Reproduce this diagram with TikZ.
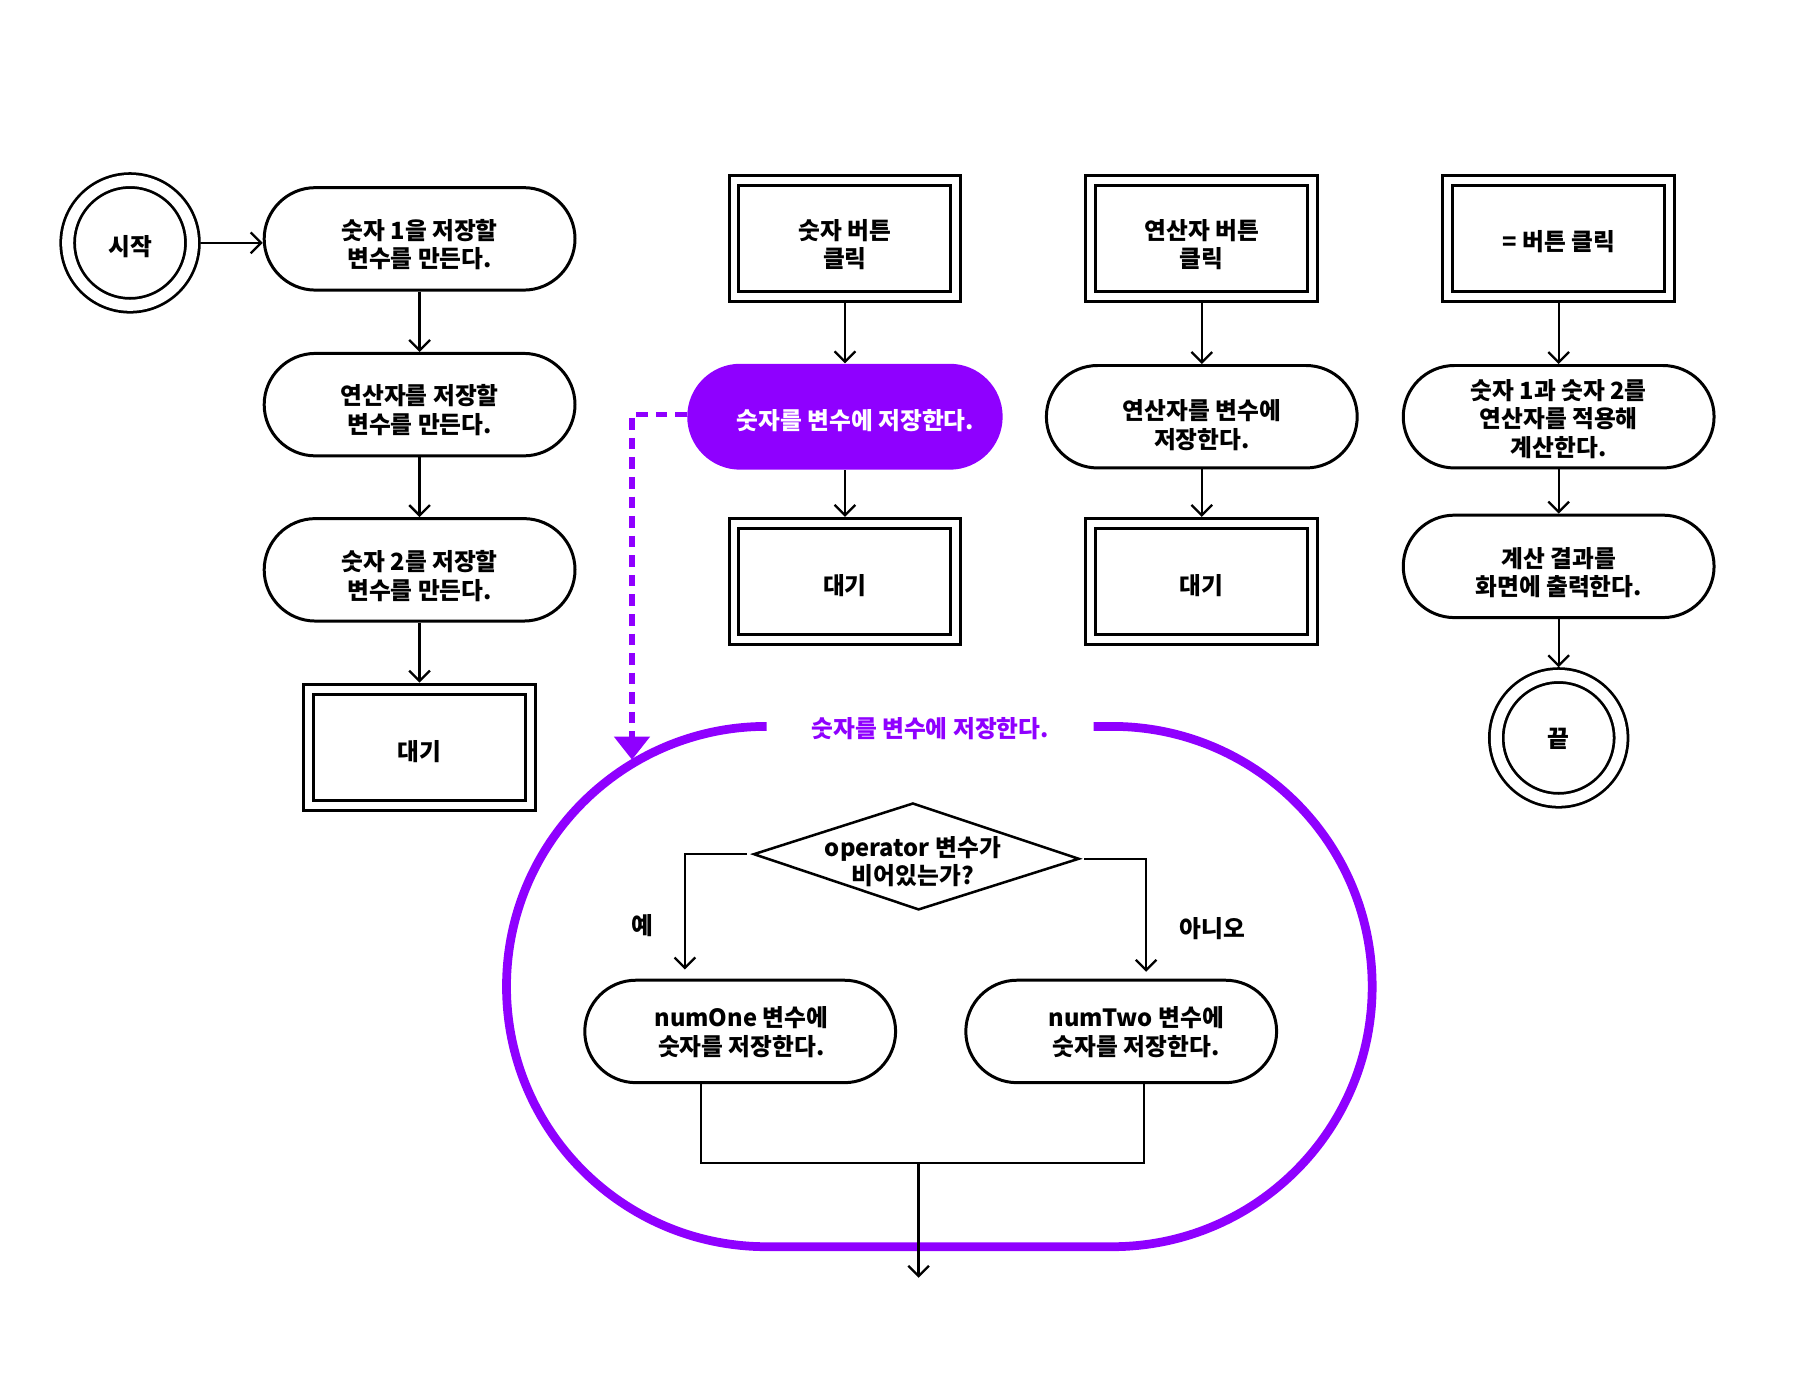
\documentclass[tikz,border=0pt]{standalone}
\usepackage{fontspec}
\setmainfont{Noto Sans CJK KR}
\usetikzlibrary{arrows.meta,shapes.misc}
\definecolor{pp}{HTML}{8F00FF}
\begin{document}
\begin{tikzpicture}[x=0.5pt,y=-0.5pt,
  txt/.style={font=\fontsize{10.3pt}{12.5pt}\selectfont\bfseries, align=center, inner sep=0pt},
  term/.style={rounded rectangle, draw, line width=1.3pt, minimum width=135pt, minimum height=44.5pt, inner sep=0pt},
  pterm/.style={rounded rectangle, fill=pp, minimum width=137pt, minimum height=46pt, inner sep=0pt},
  dbox/.style={rectangle, draw, line width=1.3pt, double, double distance=3pt, minimum width=96.4pt, minimum height=50.4pt, inner sep=0pt, outer sep=2.8pt},
  dcirc/.style={circle, draw, line width=1.2pt, double, double distance=4.8pt, minimum size=54.2pt, inner sep=0pt, outer sep=3.6pt},
  conn/.style={line width=1pt},
  arr/.style={conn, -{Straight Barb[length=4.5pt,width=9pt]}},
  bigp/.style={draw=pp, line width=3.8pt},
  pdash/.style={draw=pp, line width=2.5pt, dash pattern=on 5pt off 3.5pt, -{Triangle[width=15pt,length=10pt]}},
  shapeline/.style={line width=1.1pt, line join=miter}
]
\useasboundingbox (0,0) rectangle (1568,1195);

% column 1
\node[dcirc] (start) at (113,211) {};
\node[txt] (startt) at (113,214) {시작};
\node[term] (b1) at (364.5,207.5) {};
\node[txt] (b1t) at (364.5,212.5) {숫자 1을 저장할\\변수를 만든다.};
\node[term] (b2) at (364.5,351.5) {};
\node[txt] (b2t) at (364.5,356.5) {연산자를 저장할\\변수를 만든다.};
\node[term] (b3) at (364.5,495) {};
\node[txt] (b3t) at (364.5,500.5) {숫자 2를 저장할\\변수를 만든다.};
\node[dbox] (w1) at (364.5,649) {};
\node[txt] (w1t) at (364.5,653) {대기};

% column 2
\node[dbox] (k2) at (734,207) {};
\node[txt] (k2t) at (734,212.5) {숫자 버튼\\클릭};
\node[pterm] (p2) at (734,362) {};
\node[txt, text=white] (p2t) at (743,365) {숫자를 변수에 저장한다.};
\node[dbox] (w2) at (734,505) {};
\node[txt] (w2t) at (734,509) {대기};

% column 3
\node[dbox] (k3) at (1044,207) {};
\node[txt] (k3t) at (1044,212.5) {연산자 버튼\\클릭};
\node[term] (s3) at (1044,362) {};
\node[txt] (s3t) at (1044,369.5) {연산자를 변수에\\저장한다.};
\node[dbox] (w3) at (1044,505) {};
\node[txt] (w3t) at (1044,509) {대기};

% column 4
\node[dbox] (k4) at (1354,207) {};
\node[txt] (k4t) at (1354,210) {= 버튼 클릭};
\node[term] (s4) at (1354,362) {};
\node[txt] (s4t) at (1354,364) {숫자 1과 숫자 2를\\연산자를 적용해\\계산한다.};
\node[term] (s5) at (1354,492) {};
\node[txt] (s5t) at (1354,497.5) {계산 결과를\\화면에 출력한다.};
\node[dcirc] (end) at (1354,641) {};
\node[txt] (endt) at (1354,642) {끝};

% arrows
\draw[arr] (start.east) -- (start.east -| b1.west);
\draw[arr] (b1) -- (b2);
\draw[arr] (b2) -- (b3);
\draw[arr] (b3) -- (w1);
\draw[arr] (k2) -- (p2);
\draw[arr] (p2) -- (w2);
\draw[arr] (k3) -- (s3);
\draw[arr] (s3) -- (w3);
\draw[arr] (k4) -- (s4);
\draw[arr] (s4) -- (s5);
\draw[arr] (s5) -- (end);

% big purple frame
\draw[bigp] (950,631) -- (966,631) arc[start angle=-90,end angle=90,radius=226] -- (666,1083) arc[start angle=90,end angle=270,radius=226];
\node[txt, text=pp] (plabel) at (808,633) {숫자를 변수에 저장한다.};

% dashed link
\coordinate (ptip) at (549,660);
\draw[pdash] ([yshift=1pt]p2.west) -| (ptip);

% decision
\coordinate (dT) at (793,698);
\coordinate (dR) at (937,746);
\coordinate (dB) at (798,790);
\coordinate (dL) at (655,742);
\draw[shapeline] (dT) -- (dR) -- (dB) -- (dL) -- cycle;
\node[txt] (dia) at (793,748.5) {operator 변수가\\비어있는가?};

\node[term] (n1) at (643,896) {};
\node[txt] (n1t) at (644,896.5) {numOne 변수에\\숫자를 저장한다.};
\node[term] (n2) at (974,896) {};
\node[txt] (n2t) at (987,896.5) {numTwo 변수에\\숫자를 저장한다.};

\draw[arr] ([xshift=-3pt]dL) -| ([xshift=-24pt,yshift=4pt]n1.north);
\draw[arr] ([xshift=2.5pt]dR) -| ([xshift=10.8pt,yshift=3pt]n2.north);
\node[txt] (lyes) at (558,804) {예};
\node[txt] (lno) at (1053,807) {아니오};

% merge
\coordinate (m2) at (994,1010);
\coordinate (mj) at (798,1010);
\coordinate (outb) at (798,1110);
\draw[conn] ([xshift=-17pt]n1.south) |- (m2) -- ([xshift=10pt]n2.south);
\draw[arr] (mj) -- (outb);
\end{tikzpicture}
\end{document}
